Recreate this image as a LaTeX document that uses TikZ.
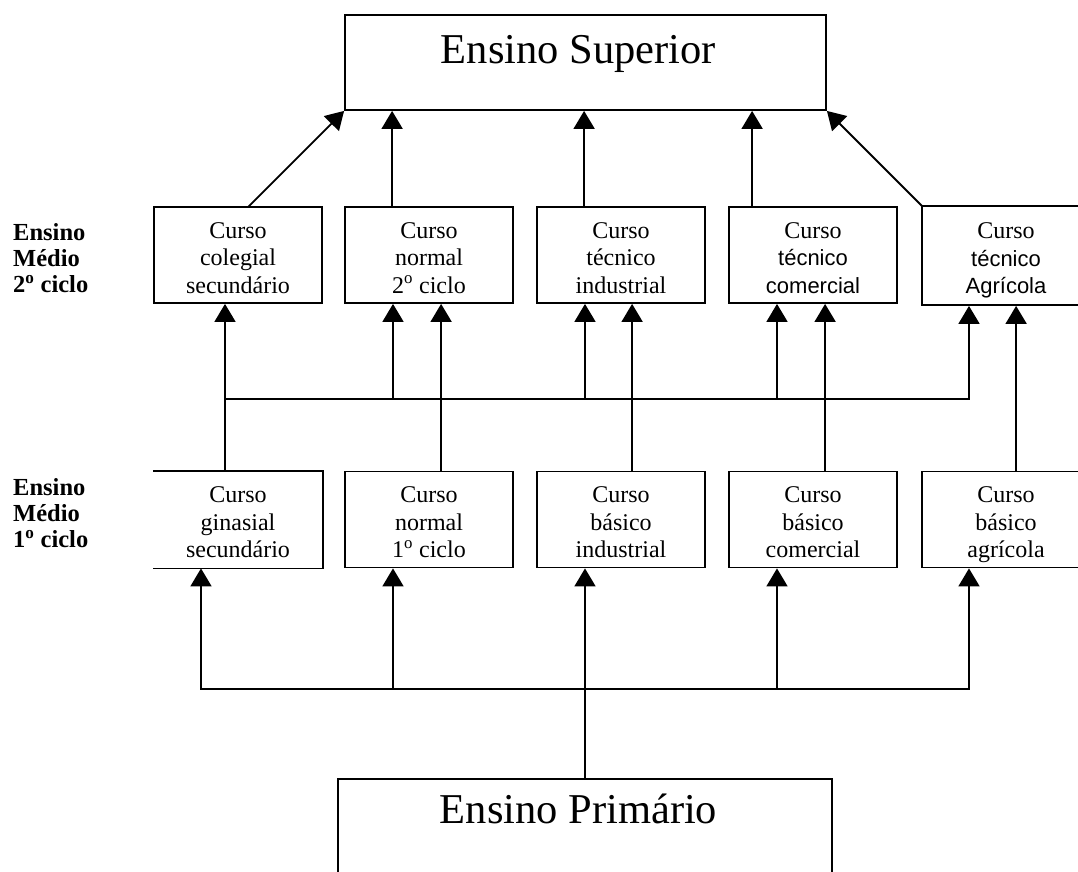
\documentclass[tikz,border=0pt]{standalone}
\usepackage{fontspec}
\setmainfont{Liberation Serif}
\newfontfamily\arialfam{Liberation Sans}
\usetikzlibrary{arrows.meta,calc}

\tikzset{
  edge/.style={line width=1.8pt, draw=black, line cap=rect},
  arr/.style={edge, -{Triangle[length=18pt,width=21pt]}},
  bigbox/.style={draw, line width=1.8pt, inner sep=0pt, minimum height=95pt,
    font=\fontsize{42.5}{50}\selectfont},
  course/.style={line width=1.8pt, minimum width=168pt, minimum height=96pt,
    inner sep=0pt, align=center, font=\fontsize{24}{27.5}\selectfont},
  framed/.style={course, draw},
  levellabel/.style={anchor=north west, inner sep=0pt, align=left,
    font=\bfseries\fontsize{24.5}{26}\selectfont},
}
% three centred lines with fixed top/bottom extent
\newcommand{\tri}[3]{\rule{0pt}{27pt}#1\\#2\\#3\rule[-6pt]{0pt}{6pt}}
\newcommand{\sanstxt}[1]{{\arialfam\fontsize{22}{27.5}\selectfont #1}}

\begin{document}
\begin{tikzpicture}[x=1pt,y=-1pt]
\useasboundingbox (0,0) rectangle (1078,871);
\clip (0,0) rectangle (1078,871);

% top and bottom levels
\node[bigbox, minimum width=481pt] (sup) at (585.5,62.5)
  {\rule[-29pt]{0pt}{59pt}Ensino Superior\hspace*{14pt}};
\node[bigbox, minimum width=494pt] (prim) at (585,826.5)
  {\rule[-38pt]{0pt}{69pt}Ensino Primário\hspace*{13pt}};

% level labels
\node[levellabel] (lab2) at (13,220)
  {\rule{0pt}{20pt}Ensino\\Médio\\2\textsuperscript{o} ciclo};
\node[levellabel] (lab1) at (13,475)
  {\rule{0pt}{20pt}Ensino\\Médio\\1\textsuperscript{o} ciclo};

% second cycle
\node[framed] (col2) at (238,255) {\tri{Curso}{colegial}{secundário}};
\node[framed] (nor2) at (429,255) {\tri{Curso}{normal}{2\textsuperscript{o} ciclo}};
\node[framed] (ind2) at (621,255) {\tri{Curso}{técnico}{industrial}};
\node[framed] (com2) at (813,255) {\tri{Curso}{\sanstxt{técnico}}{\sanstxt{comercial}}};
\node[framed, minimum height=99pt] (agr2) at (1006,255.5)
  {\tri{Curso}{\sanstxt{técnico}}{\sanstxt{Agrícola}}};

% first cycle
\node[course] (gin1) at (238,519.5) {\tri{Curso}{ginasial}{secundário}};
\draw[line width=1.8pt] (gin1.north west) -- (gin1.north east)
  -- (gin1.south east) -- (gin1.south west);
\node[framed] (nor1) at (429,519.5) {\tri{Curso}{normal}{1\textsuperscript{o} ciclo}};
\node[framed] (ind1) at (621,519.5) {\tri{Curso}{básico}{industrial}};
\node[framed] (com1) at (813,519.5) {\tri{Curso}{básico}{comercial}};
\node[framed] (agr1) at (1006,519.5) {\tri{Curso}{básico}{agrícola}};

% second cycle -> higher education
\coordinate (colup) at ($(col2.north west)+(96,0)$);
\coordinate (norup) at ($(nor2.north west)+(48,0)$);
\coordinate (indup) at ($(ind2.north west)+(48,0)$);
\coordinate (comup) at ($(com2.north west)+(24,0)$);
\draw[arr] (colup) -- (sup.south west);
\draw[arr] (norup) -- (norup |- sup.south);
\draw[arr] (indup) -- (indup |- sup.south);
\draw[arr] (comup) -- (comup |- sup.south);
\draw[arr] (agr2.north west) -- (sup.south east);

% upper distribution bus
\coordinate (mb1) at (225,399);
\coordinate (mb2) at (393,399);
\coordinate (mb3) at (585,399);
\coordinate (mb4) at (777,399);
\coordinate (mb5) at (969,399);
\draw[edge] (mb1) -- (mb5);
\draw[arr] (mb1 |- gin1.north) -- (mb1 |- col2.south);
\draw[arr] (mb2) -- (mb2 |- nor2.south);
\draw[arr] (mb3) -- (mb3 |- ind2.south);
\draw[arr] (mb4) -- (mb4 |- com2.south);
\draw[arr] (mb5) -- (mb5 |- agr2.south);

% direct first -> second cycle links
\coordinate (nx) at ($(nor1.north west)+(97,0)$);
\coordinate (ix) at ($(ind1.north west)+(96,0)$);
\coordinate (cx) at ($(com1.north west)+(97,0)$);
\coordinate (ax) at ($(agr1.north west)+(95,0)$);
\draw[arr] (nx) -- (nx |- nor2.south);
\draw[arr] (ix) -- (ix |- ind2.south);
\draw[arr] (cx) -- (cx |- com2.south);
\draw[arr] (ax) -- (ax |- agr2.south);

% lower distribution bus from primary education
\coordinate (lb1) at (201,689);
\coordinate (lb2) at (393,689);
\coordinate (lb3) at (585,689);
\coordinate (lb4) at (777,689);
\coordinate (lb5) at (969,689);
\draw[edge] (lb1) -- (lb5);
\draw[arr] (lb3 |- prim.north) -- (lb3 |- ind1.south);
\draw[arr] (lb1) -- (lb1 |- gin1.south);
\draw[arr] (lb2) -- (lb2 |- nor1.south);
\draw[arr] (lb4) -- (lb4 |- com1.south);
\draw[arr] (lb5) -- (lb5 |- agr1.south);
\end{tikzpicture}
\end{document}
